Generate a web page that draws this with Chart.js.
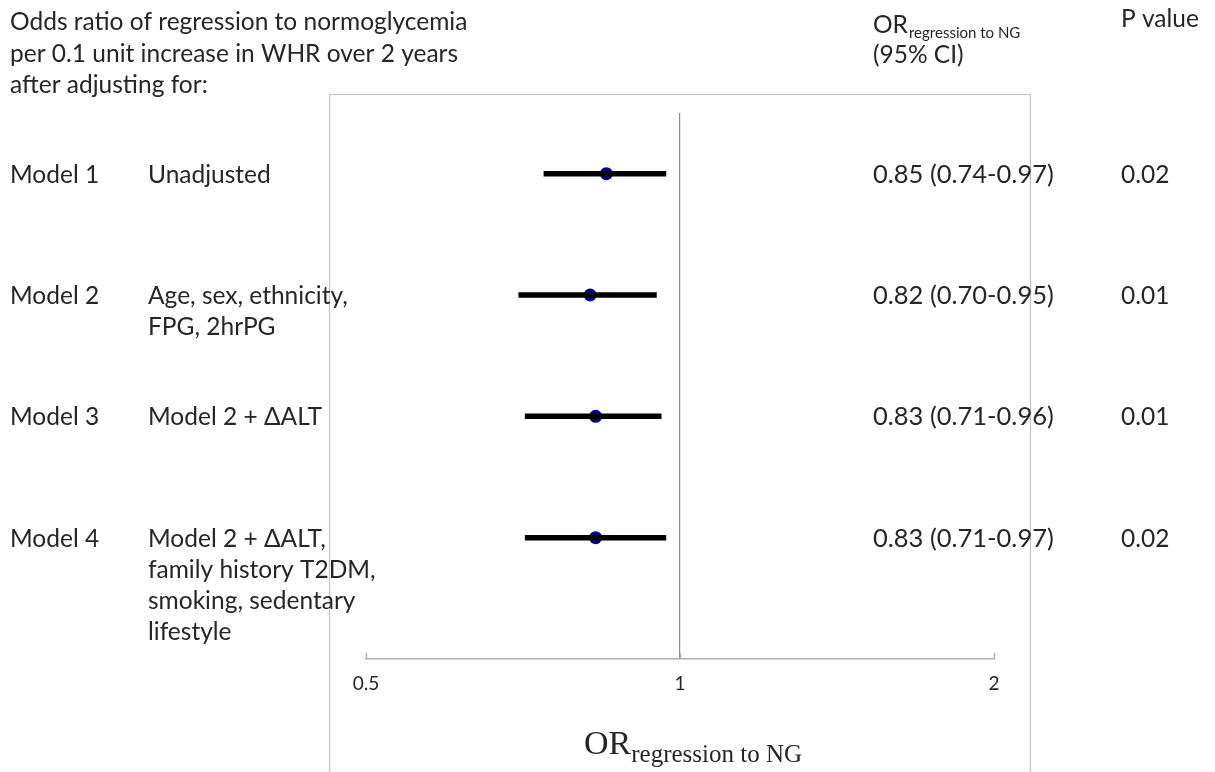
<!DOCTYPE html>
<html>
<head>
<meta charset="utf-8">
<script src="https://cdn.jsdelivr.net/npm/chart.js@4"></script>
<style>
html,body{margin:0;padding:0;background:#fff;}
#wrap{width:1215px;height:772px;position:relative;}
</style>
</head>
<body>
<div id="wrap"><canvas id="forestChart" width="1215" height="772"></canvas></div>
<script>

// data
const models = ["Model 1","Model 2","Model 3","Model 4"];

const adjustments = [
["Unadjusted"],
["Age, sex, ethnicity,","FPG, 2hrPG"],
["Model 2 + \u0394ALT"],
["Model 2 + \u0394ALT,","family history T2DM,","smoking, sedentary","lifestyle"]
];

const oddsRatio = [0.85,0.82,0.83,0.83];
const ciLow = [0.74,0.70,0.71,0.71];
const ciHigh = [0.97,0.95,0.96,0.97];
const pValues = ["0.02","0.01","0.01","0.02"];

const xTicks = [0.5,1,2];

const textColor = "#262626";
const font = "Lato, 'Open Sans', sans-serif";

// CI bars, one line dataset per model
const ciSets = models.map((m,i)=>({
type:"line",
label:m+" CI",
data:[{x:ciLow[i],y:i+1},{x:ciHigh[i],y:i+1}],
borderColor:"#000",
borderWidth:5.5,
pointRadius:0,
showLine:true
}));

const pointSet = {
type:"scatter",
label:"OR",
data:oddsRatio.map((v,i)=>({x:v,y:i+1})),
backgroundColor:"#00008b",
borderColor:"#00008b",
borderWidth:0,
pointRadius:6.5,
pointHoverRadius:6.5
};

// texts, box and axis end ticks
const textPlugin = {
id:"forestText",
afterDraw(chart){
const c = chart.ctx;
const xs = chart.scales.x;
const ys = chart.scales.y;
const area = chart.chartArea;

c.save();

// frame box
c.strokeStyle = "#c4c4c4";
c.lineWidth = 1.2;
c.strokeRect(329.5,94.5,701,700);

// small upward ticks on the axis
c.strokeStyle = "#b0b0b0";
c.lineWidth = 1.5;
xTicks.forEach(t=>{
let px = Math.round(xs.getPixelForValue(t))+0.5;
c.beginPath();
c.moveTo(px,area.bottom);
c.lineTo(px,area.bottom-6);
c.stroke();
});

c.fillStyle = textColor;
c.textBaseline = "alphabetic";
c.textAlign = "left";

// heading
c.font = "24.5px "+font;
c.fillText("Odds ratio of regression to normoglycemia",10,30);
c.fillText("per 0.1 unit increase in WHR over 2 years",10,62);
c.fillText("after adjusting for:",10,93);

c.fillText("OR",873,33);
let w = c.measureText("OR").width;
c.font = "15px "+font;
c.fillText("regression to NG",873+w+1,38);
c.font = "24.5px "+font;
c.fillText("(95% CI)",873,63);
c.fillText("P value",1121,27);

// rows
models.forEach((m,i)=>{
let base = ys.getPixelForValue(i+1)+9;
c.font = "24.5px "+font;
c.fillText(m,10,base);
adjustments[i].forEach((line,j)=>{
c.fillText(line,148,base+j*31);
});
c.fillText(pValues[i],1121,base);
c.font = "25.5px "+font;
c.fillText(oddsRatio[i].toFixed(2)+" ("+ciLow[i].toFixed(2)+"-"+ciHigh[i].toFixed(2)+")",873,base);
});

// axis title
c.font = "34px 'Liberation Serif', serif";
c.fillText("OR",584,754);
w = c.measureText("OR").width;
c.font = "25px 'Liberation Serif', serif";
c.fillText("regression to NG",584+w,762);

c.restore();
}
};

const forest = document.getElementById("forestChart");

new Chart(forest,{
data:{
datasets:[...ciSets,pointSet]
},
options:{
responsive:false,
animation:false,
events:[],
layout:{
padding:{left:366,right:221,top:113,bottom:73}
},
plugins:{
legend:{display:false},
tooltip:{enabled:false}
},
scales:{
x:{
type:"logarithmic",
min:0.5,
max:2,
afterBuildTicks:(s)=>{
s.ticks = xTicks.map(v=>({value:v}));
},
afterFit:(s)=>{
s.height = 40;
},
grid:{
drawTicks:false,
color:(ctx)=>ctx.tick && ctx.tick.value===1 ? "#8c8c8c" : "rgba(0,0,0,0)",
lineWidth:1.2
},
border:{
display:true,
color:"#b0b0b0",
width:1.5
},
ticks:{
padding:13,
color:textColor,
font:{family:"Lato, 'Open Sans', sans-serif",size:19},
callback:(v)=>String(v)
}
},
y:{
type:"linear",
min:0.5,
max:5,
reverse:true,
display:false
}
}
},
plugins:[textPlugin]
});

</script>
</body>
</html>
